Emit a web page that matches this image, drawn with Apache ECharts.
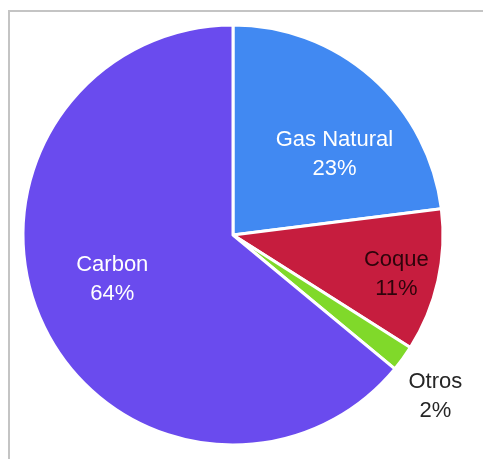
<!DOCTYPE html>
<html>
<head>
<meta charset="utf-8">
<script src="https://cdn.jsdelivr.net/npm/echarts@6/dist/echarts.min.js"></script>
<style>
  html, body { margin: 0; padding: 0; background: #fff; }
  #frame { position: absolute; left: 8px; top: 10px; width: 475px; height: 449px;
           border-left: 2px solid #c4c4c4; border-top: 2px solid #c4c4c4; box-sizing: border-box; }
  #chart { position: absolute; left: 0; top: 0; width: 483px; height: 459px; }
</style>
</head>
<body>
<div id="frame"></div>
<div id="chart"></div>
<script>
// Energy sources share (%)
const categories = ['Gas Natural', 'Coque', 'Otros', 'Carbon'];
const shares = [23, 11, 2, 64];

// Per-slice styling
const sliceColors = ['#4189f2', '#c61d3e', '#80d92a', '#6a4bee'];
const labelColors = ['#ffffff', '#2e040b', '#262626', '#ffffff'];
const labelOffsets = [[30, 0], [58, 16], [115, 98], [-23, -2]];

const chart = echarts.init(document.getElementById('chart'));
chart.setOption({
  animation: false,
  series: [{
    type: 'pie',
    center: [233, 235],
    radius: [0, 210],
    startAngle: 90,
    clockwise: true,
    avoidLabelOverlap: false,
    itemStyle: { borderColor: '#ffffff', borderWidth: 3 },
    label: {
      show: true,
      position: 'inside',
      formatter: p => p.name + '\n' + p.value + '%',
      fontFamily: 'Liberation Sans, Arial, sans-serif',
      fontSize: 22,
      lineHeight: 29,
      align: 'center'
    },
    labelLine: { show: false },
    emphasis: { disabled: true },
    data: categories.map((name, i) => ({
      name: name,
      value: shares[i],
      itemStyle: { color: sliceColors[i] },
      label: { color: labelColors[i], offset: labelOffsets[i] }
    }))
  }]
});
</script>
</body>
</html>
